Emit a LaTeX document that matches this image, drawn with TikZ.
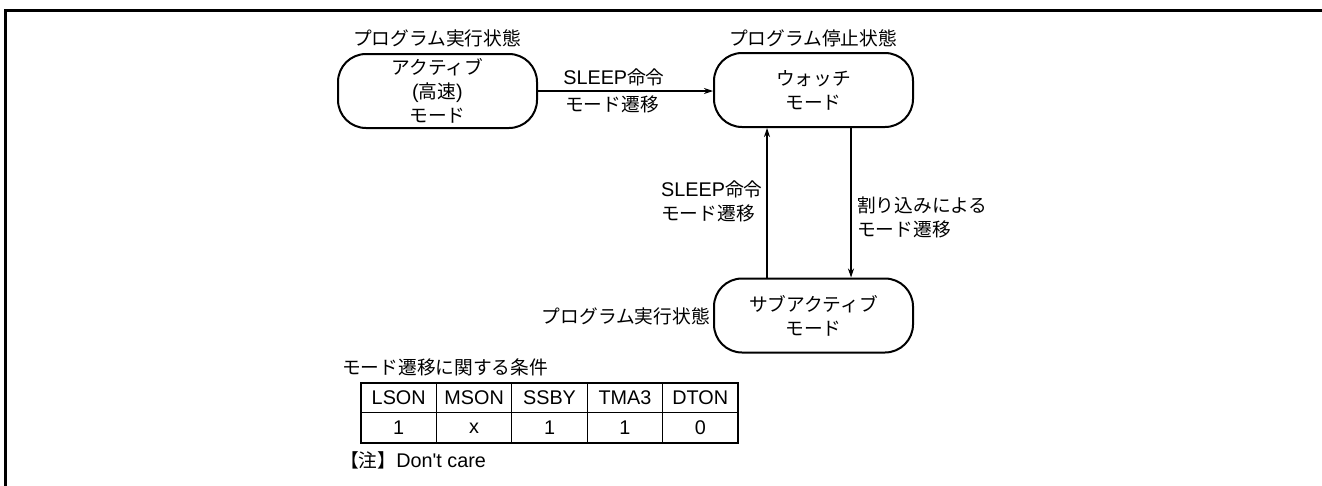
\documentclass[tikz,border=0pt]{standalone}
\usepackage{fontspec}
\setmainfont{Liberation Sans}[Scale=1.1]
\newfontfamily\jp{Noto Sans CJK JP}[Scale=1.04]
\usetikzlibrary{arrows.meta}
\begin{document}
\begin{tikzpicture}[x=1pt,y=-1pt,
  every node/.style={font=\fontsize{18}{24}\selectfont, inner sep=0pt},
  state/.style={draw, line width=2pt, rounded corners=28pt, minimum width=199pt, minimum height=74pt, align=center},
  lbl/.style={align=left},
  arr/.style={line width=1.1pt, -{Stealth[length=9pt,width=6pt]}},
  cell/.style={}]
\useasboundingbox (0,0) rectangle (1322,485);
\draw[line width=3pt] (5,486) -- (5,10) -- (1323,10);

\node[state] (act) at (437.5,91) {{\jp アクティブ}\\({\jp 高速})\\{\jp モード}};
\node[state] (watch) at (813.5,90) {{\jp ウォッチ}\\{\jp モード}};
\node[state] (sub) at (813.5,315.5) {{\jp サブアクティブ}\\{\jp モード}};

\node (actlbl) at (437,38) {\jp プログラム実行状態};
\node (watchlbl) at (813,38) {\jp プログラム停止状態};
\node[anchor=east] (sublbl) at (710,316) {\jp プログラム実行状態};

\draw[arr] (act.east) -- (act.east -| watch.west);
\node (t1) at (614,77) {SLEEP{\jp 命令}};
\node (t2) at (612,104) {\jp モード遷移};

\draw[arr] ([xshift=-46.5pt]sub.north) -- ([xshift=-46.5pt]watch.south);
\draw[arr] ([xshift=37.5pt]watch.south) -- ([xshift=37.5pt]sub.north);
\node[lbl, anchor=west] (t3) at (661,201) {SLEEP{\jp 命令}\\{\jp モード遷移}};
\node[lbl, anchor=west] (t4) at (857,217) {\jp 割り込みによる\\\jp モード遷移};

\node[anchor=west] (tcap) at (342,367) {\jp モード遷移に関する条件};
\draw[line width=1pt] (361,412) -- (738,412);
\foreach \x in {436.4,511.8,587.2,662.6} \draw[line width=1pt] (\x,383) -- (\x,443);
\draw[line width=2pt] (361,383) rectangle (738,443);
\foreach \t [count=\i] in {LSON,MSON,SSBY,TMA3,DTON}
  \node[cell] (h\i) at ({361+75.4*(\i-0.5)},398) {\t};
\foreach \t [count=\i] in {1,x,1,1,0}
  \node[cell] (v\i) at ({361+75.4*(\i-0.5)},428) {\t};
\node[anchor=west] (note) at (340,460) {{\jp 【注】}Don\textquotesingle t care};
\end{tikzpicture}
\end{document}
